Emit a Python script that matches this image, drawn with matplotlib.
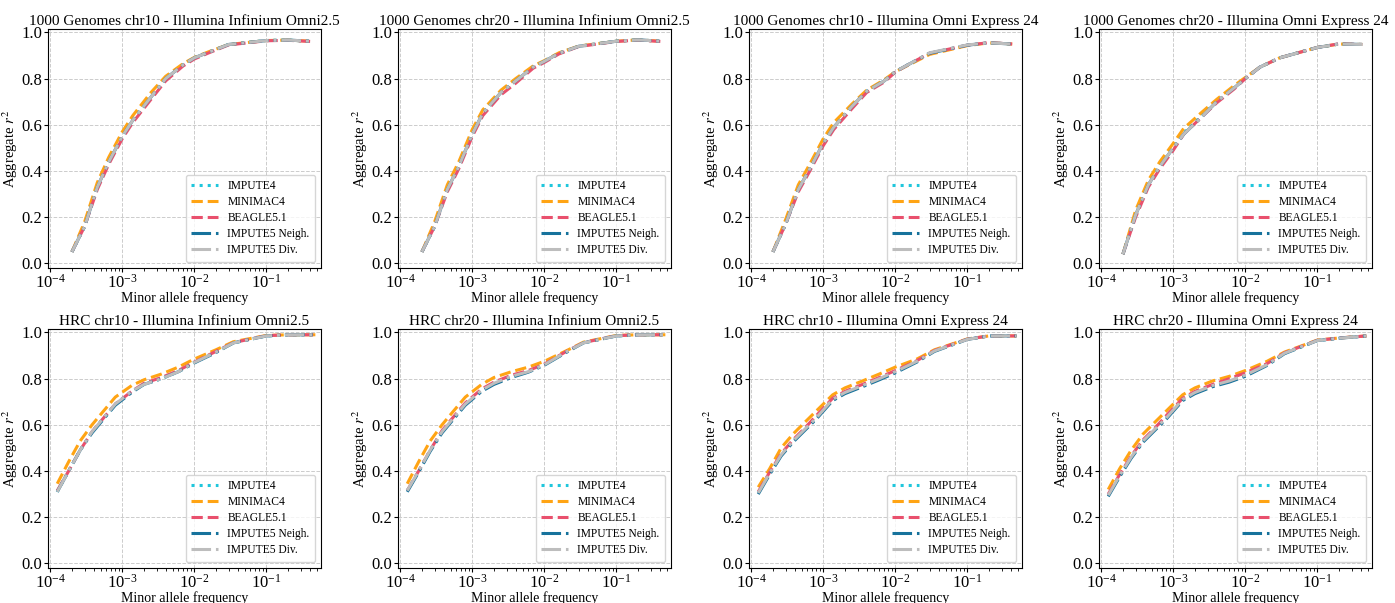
import matplotlib
matplotlib.use("Agg")
from matplotlib import pyplot as plt

plt.rcParams['font.family'] = ['Liberation Serif', 'DejaVu Serif']
plt.rcParams['mathtext.fontset'] = 'stix'

# minor allele frequency bins
x_1kg = [2e-4, 3e-4, 4.5e-4, 6.5e-4, 1e-3, 1.4e-3, 2.5e-3, 4e-3, 7e-3, 1e-2, 1.6e-2, 3e-2, 0.1, 0.2, 0.42]
x_hrc = [1.25e-4, 1.8e-4, 2.6e-4, 3.8e-4, 5.5e-4, 8e-4, 1.35e-3, 2e-3, 3.5e-3, 6e-3, 1e-2, 2e-2, 3.5e-2, 0.1, 0.2, 0.48]

methods = ["IMPUTE4", "MINIMAC4", "BEAGLE5.1", "IMPUTE5 Neigh.", "IMPUTE5 Div."]

# 1000 Genomes chr10 - Omni2.5
a_imp4 = [0.05, 0.16, 0.33, 0.44, 0.55, 0.62, 0.72, 0.80, 0.86, 0.89, 0.915, 0.948, 0.965, 0.967, 0.962]
a_mini = [0.05, 0.18, 0.35, 0.46, 0.57, 0.64, 0.74, 0.81, 0.865, 0.892, 0.917, 0.948, 0.965, 0.967, 0.962]
a_beag = [0.05, 0.16, 0.32, 0.43, 0.54, 0.61, 0.71, 0.79, 0.855, 0.885, 0.912, 0.946, 0.964, 0.966, 0.961]
a_nei = [0.05, 0.16, 0.33, 0.44, 0.55, 0.62, 0.72, 0.80, 0.86, 0.89, 0.915, 0.948, 0.965, 0.967, 0.962]
a_div = [0.05, 0.16, 0.33, 0.44, 0.55, 0.62, 0.72, 0.80, 0.86, 0.89, 0.915, 0.948, 0.965, 0.967, 0.962]

# 1000 Genomes chr20 - Omni2.5
b_imp4 = [0.05, 0.16, 0.32, 0.42, 0.56, 0.65, 0.74, 0.79, 0.85, 0.875, 0.91, 0.94, 0.962, 0.968, 0.962]
b_mini = [0.05, 0.18, 0.34, 0.44, 0.58, 0.665, 0.75, 0.80, 0.855, 0.878, 0.912, 0.941, 0.962, 0.968, 0.962]
b_beag = [0.05, 0.16, 0.31, 0.41, 0.55, 0.64, 0.73, 0.78, 0.845, 0.87, 0.907, 0.939, 0.961, 0.967, 0.961]
b_nei = [0.05, 0.16, 0.32, 0.42, 0.56, 0.65, 0.74, 0.79, 0.85, 0.875, 0.91, 0.94, 0.962, 0.968, 0.962]
b_div = [0.05, 0.16, 0.32, 0.42, 0.56, 0.65, 0.74, 0.79, 0.85, 0.875, 0.91, 0.94, 0.962, 0.968, 0.962]

# 1000 Genomes chr10 - Omni Express 24
c_imp4 = [0.05, 0.17, 0.32, 0.41, 0.52, 0.59, 0.68, 0.745, 0.79, 0.83, 0.865, 0.91, 0.945, 0.955, 0.95]
c_mini = [0.05, 0.19, 0.34, 0.43, 0.54, 0.61, 0.69, 0.75, 0.795, 0.83, 0.862, 0.905, 0.943, 0.955, 0.95]
c_beag = [0.05, 0.17, 0.31, 0.40, 0.51, 0.58, 0.67, 0.74, 0.785, 0.828, 0.865, 0.91, 0.945, 0.956, 0.95]
c_nei = [0.05, 0.17, 0.32, 0.41, 0.52, 0.59, 0.68, 0.745, 0.79, 0.83, 0.865, 0.91, 0.945, 0.955, 0.95]
c_div = [0.05, 0.17, 0.32, 0.41, 0.52, 0.59, 0.68, 0.745, 0.79, 0.83, 0.865, 0.912, 0.946, 0.955, 0.95]

# 1000 Genomes chr20 - Omni Express 24
d_imp4 = [0.04, 0.21, 0.34, 0.42, 0.50, 0.565, 0.64, 0.70, 0.76, 0.80, 0.85, 0.89, 0.935, 0.95, 0.948]
d_mini = [0.04, 0.23, 0.36, 0.44, 0.52, 0.585, 0.655, 0.71, 0.77, 0.805, 0.85, 0.89, 0.935, 0.95, 0.948]
d_beag = [0.04, 0.20, 0.33, 0.41, 0.49, 0.56, 0.635, 0.695, 0.755, 0.80, 0.85, 0.89, 0.935, 0.951, 0.948]
d_nei = [0.04, 0.21, 0.34, 0.42, 0.50, 0.56, 0.635, 0.70, 0.76, 0.80, 0.85, 0.89, 0.935, 0.95, 0.948]
d_div = [0.04, 0.21, 0.34, 0.42, 0.50, 0.56, 0.635, 0.70, 0.76, 0.80, 0.85, 0.89, 0.935, 0.95, 0.948]

# HRC chr10 - Omni2.5
e_imp4 = [0.31, 0.40, 0.49, 0.57, 0.63, 0.69, 0.745, 0.775, 0.80, 0.83, 0.87, 0.915, 0.955, 0.985, 0.99, 0.99]
e_mini = [0.345, 0.44, 0.53, 0.60, 0.66, 0.72, 0.77, 0.795, 0.82, 0.85, 0.885, 0.925, 0.96, 0.987, 0.99, 0.99]
e_beag = [0.315, 0.40, 0.49, 0.57, 0.63, 0.69, 0.745, 0.78, 0.805, 0.835, 0.872, 0.918, 0.956, 0.986, 0.99, 0.99]
e_nei = [0.31, 0.40, 0.49, 0.565, 0.625, 0.685, 0.74, 0.775, 0.80, 0.83, 0.868, 0.913, 0.955, 0.985, 0.99, 0.99]
e_div = [0.31, 0.40, 0.49, 0.57, 0.63, 0.69, 0.745, 0.775, 0.80, 0.83, 0.87, 0.915, 0.955, 0.985, 0.99, 0.99]

# HRC chr20 - Omni2.5
f_imp4 = [0.315, 0.40, 0.49, 0.57, 0.63, 0.69, 0.75, 0.78, 0.81, 0.83, 0.86, 0.915, 0.955, 0.985, 0.99, 0.99]
f_mini = [0.345, 0.44, 0.53, 0.60, 0.66, 0.72, 0.775, 0.805, 0.83, 0.85, 0.875, 0.92, 0.958, 0.987, 0.99, 0.99]
f_beag = [0.315, 0.40, 0.49, 0.575, 0.635, 0.695, 0.755, 0.785, 0.815, 0.835, 0.863, 0.917, 0.956, 0.986, 0.99, 0.99]
f_nei = [0.31, 0.395, 0.485, 0.565, 0.625, 0.685, 0.745, 0.775, 0.805, 0.828, 0.858, 0.913, 0.955, 0.985, 0.99, 0.99]
f_div = [0.315, 0.40, 0.49, 0.57, 0.63, 0.69, 0.75, 0.78, 0.81, 0.83, 0.86, 0.915, 0.955, 0.985, 0.99, 0.99]

# HRC chr10 - Omni Express 24
g_imp4 = [0.305, 0.39, 0.47, 0.53, 0.58, 0.63, 0.71, 0.74, 0.77, 0.80, 0.83, 0.875, 0.92, 0.97, 0.985, 0.985]
g_mini = [0.33, 0.41, 0.50, 0.56, 0.61, 0.66, 0.73, 0.76, 0.79, 0.82, 0.85, 0.885, 0.925, 0.972, 0.985, 0.985]
g_beag = [0.31, 0.395, 0.475, 0.535, 0.585, 0.64, 0.715, 0.745, 0.775, 0.805, 0.835, 0.878, 0.922, 0.971, 0.985, 0.985]
g_nei = [0.30, 0.385, 0.465, 0.525, 0.575, 0.625, 0.705, 0.735, 0.765, 0.795, 0.825, 0.872, 0.918, 0.97, 0.985, 0.985]
g_div = [0.305, 0.39, 0.47, 0.53, 0.58, 0.63, 0.71, 0.74, 0.77, 0.80, 0.83, 0.875, 0.92, 0.97, 0.985, 0.985]

# HRC chr20 - Omni Express 24
h_imp4 = [0.295, 0.38, 0.46, 0.53, 0.58, 0.63, 0.71, 0.74, 0.77, 0.79, 0.815, 0.86, 0.91, 0.965, 0.975, 0.985]
h_mini = [0.32, 0.41, 0.49, 0.56, 0.61, 0.66, 0.73, 0.76, 0.79, 0.81, 0.835, 0.875, 0.915, 0.967, 0.976, 0.985]
h_beag = [0.30, 0.385, 0.465, 0.535, 0.585, 0.64, 0.715, 0.745, 0.775, 0.80, 0.825, 0.865, 0.912, 0.966, 0.976, 0.985]
h_nei = [0.29, 0.375, 0.455, 0.525, 0.575, 0.625, 0.705, 0.735, 0.765, 0.785, 0.81, 0.857, 0.908, 0.965, 0.975, 0.985]
h_div = [0.295, 0.38, 0.46, 0.53, 0.58, 0.63, 0.71, 0.74, 0.77, 0.79, 0.815, 0.86, 0.91, 0.965, 0.975, 0.985]

titles = ["1000 Genomes chr10 - Illumina Infinium Omni2.5",
          "1000 Genomes chr20 - Illumina Infinium Omni2.5",
          "1000 Genomes chr10 - Illumina Omni Express 24",
          "1000 Genomes chr20 - Illumina Omni Express 24",
          "HRC chr10 - Illumina Infinium Omni2.5",
          "HRC chr20 - Illumina Infinium Omni2.5",
          "HRC chr10 - Illumina Omni Express 24",
          "HRC chr20 - Illumina Omni Express 24"]

panels = [
    (x_1kg, [a_imp4, a_mini, a_beag, a_nei, a_div]),
    (x_1kg, [b_imp4, b_mini, b_beag, b_nei, b_div]),
    (x_1kg, [c_imp4, c_mini, c_beag, c_nei, c_div]),
    (x_1kg, [d_imp4, d_mini, d_beag, d_nei, d_div]),
    (x_hrc, [e_imp4, e_mini, e_beag, e_nei, e_div]),
    (x_hrc, [f_imp4, f_mini, f_beag, f_nei, f_div]),
    (x_hrc, [g_imp4, g_mini, g_beag, g_nei, g_div]),
    (x_hrc, [h_imp4, h_mini, h_beag, h_nei, h_div]),
]

colors = ["#1fc6dc", "#ffa414", "#e9506d", "#16729c", "#bdbdbd"]
styles = [":", "--", "--", "-.", "-."]

fig = plt.figure(figsize=(13.95, 6.03), dpi=100)
lefts = [48, 398, 749, 1099]
bottoms = [268, 568]
W, H = 1395, 603

for i, (xs, series) in enumerate(panels):
    row, col = divmod(i, 4)
    ax = fig.add_axes([lefts[col] / W, 1 - bottoms[row] / H, 273 / W, 239 / H])
    for ys, name, c, ls in zip(series, methods, colors, styles):
        ax.plot(xs, ys, ls, color=c, lw=2.2, label=name)
    ax.set_xscale("log")
    ax.set_xlim(9.3e-5, 0.575)
    ax.set_ylim(-0.02, 1.015)
    ax.set_yticks([0.0, 0.2, 0.4, 0.6, 0.8, 1.0])
    ax.grid(True, which="major", ls="--", color="#cccccc", lw=0.7)
    ax.tick_params(which="major", labelsize=12, length=3, pad=1)
    ax.tick_params(which="minor", length=1.8)
    ax.set_title(titles[i], fontsize=11, pad=3)
    ax.set_xlabel("Minor allele frequency", fontsize=10, labelpad=0)
    ax.set_ylabel("Aggregate $r^2$", fontsize=10.5, labelpad=1)
    ax.legend(loc="lower right", fontsize=8.3, handlelength=2.3,
              labelspacing=0.35, borderpad=0.5, handletextpad=0.8)

plt.savefig("out.png", dpi=100)
